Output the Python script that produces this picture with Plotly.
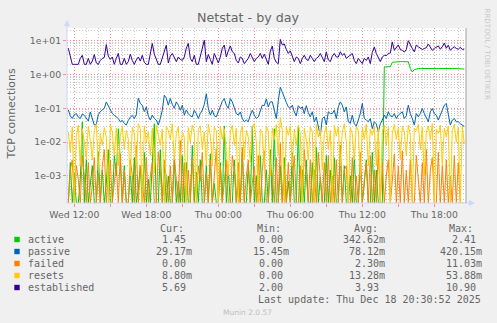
import pandas as pd
import plotly.graph_objects as go

# ---- data: 10-minute samples from Wed 11:30 to Thu 20:30 ----
SAMPLE_START = "2025-12-17 11:30"
SAMPLE_STEP = "10min"

established = [
    6, 3.5, 2, 2, 2, 2, 3, 3.7, 2, 2,
    3, 2, 2.5, 3.9, 2.2, 2, 2.6, 3, 3.2, 7.7,
    3.5, 2.8, 3.3, 2, 3, 4.2, 2, 2, 3, 2,
    2.4, 4, 2.6, 2, 2.7, 3.3, 2.5, 3.7, 2.3, 2,
    2, 4.5, 8.3, 4, 2.6, 2, 2, 3, 5, 7.4,
    2.2, 3.5, 4.2, 3.3, 2.4, 3.3, 2.8, 2.6, 3.3, 6,
    8.3, 3, 2.4, 3.7, 2, 2, 3.3, 6, 10.3, 2.4,
    3.9, 2.8, 2, 4.2, 3, 2.2, 3.3, 6, 7.4, 3.3,
    5, 7, 4.7, 4.2, 2.6, 2.2, 3.3, 3, 2.1, 2.6,
    3, 4.2, 3, 2.4, 3, 3.3, 4.2, 3, 4, 2.6,
    2, 5, 6.9, 3, 2.3, 2.1, 10.9, 7.5, 8, 5.5,
    4.2, 5, 3.5, 2.4, 3.3, 3, 2.1, 3, 3.7, 2.8,
    2.6, 3.7, 3, 2.4, 3, 3.3, 4.2, 3, 2.4, 4.7,
    2.7, 2.4, 3.5, 4.2, 3.3, 3.3, 4.7, 3.7, 4.2, 3,
    3.3, 3.7, 4.2, 2.6, 2.1, 3, 2.6, 2.1, 3, 2.6,
    3.3, 2.1, 4.5, 6.5, 4.2, 3.3, 2.4, 3.3, 3.7, 3.6,
    4.2, 4.3, 9.2, 5.2, 6.2, 7.5, 5.5, 5.2, 4.6, 5.5,
    10, 7.4, 5.9, 4.7, 7.4, 6.6, 5.9, 5.5, 5.9, 6.2,
    8, 6.2, 5.2, 5.9, 6.6, 7, 5.6, 6.6, 8.5, 6,
    7.4, 5.2, 6, 6.6, 5.9, 5.6, 6.4, 5.5, 5.69,
]

passive = [
    .09, .06, .05, .065, .07, .055, .05, .068, .062, .05,
    .042, .078, .05, .032, .034, .065, .08, .09, .1, .155,
    .12, .09, .07, .062, .056, .05, .04, .044, .036, .032,
    .044, .055, .062, .05, .065, .2, .14, .124, .08, .11,
    .06, .045, .063, .05, .045, .032, .05, .088, .245, .2,
    .124, .195, .13, .1, .155, .124, .088, .124, .063, .09,
    .07, .06, .056, .088, .07, .05, .07, .088, .13, .27,
    .1, .063, .088, .06, .056, .078, .12, .16, .195, .124,
    .1, .195, .155, .11, .07, .063, .078, .05, .04, .045,
    .04, .063, .088, .063, .05, .056, .078, .124, .12, .19,
    .11, .155, .155, .09, .05, .17, .42015, .3, .2, .15,
    .11, .1, .124, .078, .06, .12, .1, .11, .07, .12,
    .075, .056, .079, .04, .055, .032, .01545, .05, .056, .032,
    .079, .07, .07, .088, .05, .11, .155, .124, .079, .11,
    .04, .036, .063, .035, .03, .045, .07, .139, .05, .045,
    .04, .05, .025, .04, .035, .02, .035, .045, .063, .05,
    .079, .06, .056, .07, .05, .063, .07, .079, .05, .06,
    .124, .07, .05, .032, .07, .056, .07, .099, .07, .05,
    .04, .079, .099, .07, .063, .045, .063, .09, .124, .139,
    .063, .032, .045, .05, .04, .04, .035, .032, .02917,
]

# rates in milli-units (1/1000 per second)
active_milli = [
    0, 2.5, 0, 1.2, 0, 0, 0.8, 40, 0, 3,
    0, 0.5, 2, 0, 0, 5, 0, 1.5, 0, 0.6,
    6, 0, 0, 4, 1, 25, 3, 0, 2, 0,
    0, 1.5, 0, 3.5, 0, 0.4, 2, 0, 5, 0,
    0.8, 0, 3, 35, 0, 0, 6, 0, 2, 0,
    1, 0, 0, 3, 0, 0.7, 0, 4, 0, 2.5,
    0, 0, 8, 0, 1.3, 0, 3, 0, 0, 2,
    0, 4.5, 0, 0.6, 0, 0, 2.5, 0, 30, 0,
    1.5, 0, 0, 3, 0, 0.8, 0, 5, 0, 0,
    2, 0, 30, 0, 1, 0, 4, 0, 0, 1.5,
    0, 6, 0, 25, 0, 0, 2, 0, 3.5, 0,
    0.7, 0, 5, 0, 0, 28, 0, 1.5, 0, 3,
    0, 0, 2.5, 0, 7, 0, 0.9, 0, 0, 4,
    0, 1.5, 0, 3.5, 0, 0, 6, 0, 2, 0,
    0, 1, 0, 4, 0, 0, 2.5, 0, 0.6, 3,
    0, 0, 5, 0, 1.5, 0, 0, 0, 1680, 1680,
    1690, 1700, 2300, 2350, 2380, 2400, 2410, 2400, 2390, 2400,
    2380, 1500, 1190, 1400, 1480, 1500, 1510, 1500, 1490, 1500,
    1510, 1500, 1500, 1490, 1500, 1510, 1500, 1490, 1500, 1500,
    1490, 1500, 1500, 1510, 1500, 1490, 1480, 1460, 1450,
]

failed_milli = [
    0, 1.5, 3, 0, 2, 0.8, 0, 4, 1, 0,
    2.5, 0, 0.5, 3.5, 0, 1.2, 0, 2, 6, 0,
    1, 3, 0, 0.7, 2.5, 0, 4.5, 0, 1.5, 0,
    0, 3, 1, 0, 8, 0, 2, 0.6, 0, 3.5,
    0, 1, 2.5, 0, 0, 5, 1.5, 0, 3, 0.8,
    0, 2, 0, 4, 1, 0, 11.03, 0, 2.5, 0,
    1.5, 0, 3.5, 0, 0, 2, 0.7, 5, 0, 1.2,
    0, 3, 0, 1, 6.5, 0, 2, 0, 0.8, 3,
    0, 0, 4, 1.5, 0, 2.5, 0, 7, 0, 1,
    3, 0, 0.6, 2, 0, 4, 0, 1.5, 5.5, 0,
    0, 2, 1, 0, 3.5, 0, 9, 0, 1.5, 0,
    2.5, 0, 0.9, 4, 0, 0, 2, 0, 6, 1,
    0, 3, 0, 1.5, 0, 5, 0.7, 0, 2.5, 0,
    4, 0, 1, 0, 3, 0, 8, 0, 1.5, 2,
    0, 0, 3.5, 0, 1, 0, 5, 0, 0.8, 2.5,
    0, 4, 0, 1.5, 0, 6, 0, 2.5, 0, 1,
    3, 0, 0.7, 4.5, 0, 2, 0, 5.5, 0, 1.5,
    0, 3, 0, 0, 4, 1, 0, 2.5, 0, 6,
    0, 1.5, 3.5, 0, 0, 5, 0, 2, 0, 3,
    0, 1, 0, 4, 0, 2.5, 0, 0, 0,
]

resets_milli = [
    20, 5, 28, 0, 15, 32, 2, 25, 10, 3,
    30, 12, 3, 22, 35, 1.5, 18, 8, 27, 14,
    0, 33, 20, 4, 26, 2, 15, 30, 6, 22,
    12, 1, 28, 18, 2, 35, 25, 0, 30, 10,
    20, 4, 26, 1.2, 32, 15, 8, 24, 0, 30,
    22, 12, 35, 3, 18, 28, 3, 20, 14, 0,
    27, 10, 32, 18, 0, 24, 30, 6, 20, 2,
    34, 16, 2, 28, 22, 0, 30, 12, 25, 5,
    1, 20, 32, 8, 26, 0, 18, 30, 3, 22,
    14, 2.5, 28, 36, 10, 0, 24, 18, 2, 30,
    20, 1, 26, 12, 33, 4, 53.88, 22, 0, 28,
    16, 30, 2, 24, 8, 32, 18, 0, 26, 12,
    3, 28, 20, 0, 34, 14, 25, 1.5, 18, 30,
    6, 22, 0, 32, 15, 28, 2, 20, 35, 10,
    0, 26, 18, 3, 30, 22, 1, 28, 12, 34,
    2, 24, 16, 30, 2, 26, 0, 20, 32, 8,
    28, 0, 18, 34, 12, 26, 3, 30, 20, 4,
    32, 16, 0, 26, 22, 34, 6, 28, 1, 20,
    30, 12, 36, 0, 24, 18, 32, 2, 26, 14,
    30, 0, 22, 34, 10, 28, 0, 30, 8.8,
]

active = [v / 1000 for v in active_milli]
failed = [v / 1000 for v in failed_milli]
resets = [v / 1000 for v in resets_milli]

series_names = ["active", "passive", "failed", "resets", "established"]
series_colors = ["#00CC00", "#0066B3", "#FF8000", "#FFCC00", "#330099"]
series_values = [active, passive, failed, resets, established]

# legend statistics
stat_cur = [1.45, 0.02917, 0.0, 0.0088, 5.69]
stat_min = [0.0, 0.01545, 0.0, 0.0, 2.00]
stat_avg = [0.34262, 0.07812, 0.0023, 0.01328, 3.93]
stat_max = [2.41, 0.42015, 0.01103, 0.05388, 10.90]

x_tick_vals = ["2025-12-17 12:00", "2025-12-17 15:00", "2025-12-17 18:00",
               "2025-12-17 21:00", "2025-12-18 00:00", "2025-12-18 03:00",
               "2025-12-18 06:00", "2025-12-18 09:00", "2025-12-18 12:00",
               "2025-12-18 15:00", "2025-12-18 18:00"]
x_tick_text = ["Wed 12:00", "", "Wed 18:00", "", "Thu 00:00", "",
               "Thu 06:00", "", "Thu 12:00", "", "Thu 18:00"]
y_tick_vals = [1e-3, 1e-2, 1e-1, 1e0, 1e1]
y_tick_text = ["1e-03", "1e-02", "1e-01", "1e+00", "1e+01"]

X_RANGE = ["2025-12-17 11:23:30", "2025-12-18 20:38:30"]
LOG_RANGE = [-3.80, 1.376]
FLOOR = 10 ** LOG_RANGE[0]   # zero rates sit on the bottom edge

# ---- styling ----
FONT = "#666666"
AXIS = "#CFD6F8"
GRID = "#C8C8C8"
MGRID = "#EE9090"
SANS = "DejaVu Sans"
MONO = "DejaVu Sans Mono"

# plot area in pixels
L, R, T, B = 67, 466, 28, 203


def px(x):
    return (x - L) / (R - L)


def py(y):
    return (B - y) / (B - T)


def fmt(v):
    if v != 0 and abs(v) < 1:
        return f"{v * 1000:.2f}m"
    return f"{v:.2f}"


fig = go.Figure()
for name, color, vals in zip(series_names, series_colors, series_values):
    fig.add_trace(go.Scatter(
        x=pd.date_range(SAMPLE_START, periods=len(vals), freq=SAMPLE_STEP),
        y=[v if v > 0 else FLOOR for v in vals],
        mode="lines", name=name,
        line=dict(color=color, width=1),
        hoverinfo="skip", showlegend=False,
    ))

minor_y = [m * 10 ** e for e in range(-4, 2) for m in range(2, 10)]

fig.update_layout(
    width=497, height=323,
    margin=dict(l=L, r=497 - R, t=T, b=323 - B),
    paper_bgcolor="#F0F0F0", plot_bgcolor="#FFFFFF",
    showlegend=False,
    title=dict(text="Netstat - by day", x=248 / 497, xref="container",
               xanchor="center", y=1 - 18 / 323, yref="container",
               yanchor="middle",
               font=dict(family=SANS, size=12.7, color=FONT)),
)
fig.update_xaxes(
    type="date", range=X_RANGE,
    tickmode="array", tickvals=x_tick_vals, ticktext=x_tick_text,
    ticks="outside", ticklen=3, tickcolor=MGRID, tickwidth=1,
    tickfont=dict(family=SANS, size=9.3, color=FONT),
    showgrid=True, gridcolor=MGRID, griddash="1px,2px", gridwidth=1,
    zeroline=False, showline=False,
    minor=dict(dtick=3600000, tick0="2025-12-17 00:00", showgrid=True,
               gridcolor=GRID, griddash="1px,2px", gridwidth=1, ticks=""),
)
fig.update_yaxes(
    type="log", range=LOG_RANGE,
    tickmode="array", tickvals=y_tick_vals, ticktext=y_tick_text,
    ticks="outside", ticklen=3, tickcolor=MGRID, tickwidth=1,
    tickfont=dict(family=SANS, size=9.3, color=FONT),
    showgrid=True, gridcolor=MGRID, griddash="1px,2px", gridwidth=1,
    zeroline=False, showline=False,
    minor=dict(tickmode="array", tickvals=minor_y, showgrid=True,
               gridcolor=GRID, griddash="1px,2px", gridwidth=1, ticks=""),
)

shapes = [
    # axes with arrows
    dict(type="line", xref="paper", yref="paper", x0=px(L), x1=px(L),
         y0=py(B), y1=py(25), line=dict(color=AXIS, width=1)),
    dict(type="path", xref="paper", yref="paper",
         path=f"M {px(L)} {py(20)} L {px(L - 3)} {py(26)} L {px(L + 3)} {py(26)} Z",
         fillcolor=AXIS, line=dict(width=0)),
    dict(type="line", xref="paper", yref="paper", x0=px(L), x1=px(470),
         y0=py(B), y1=py(B), line=dict(color=AXIS, width=1)),
    dict(type="path", xref="paper", yref="paper",
         path=f"M {px(475)} {py(B)} L {px(469)} {py(B - 3)} L {px(469)} {py(B + 3)} Z",
         fillcolor=AXIS, line=dict(width=0)),
    dict(type="line", xref="paper", yref="paper", x0=1, x1=1, y0=0, y1=1,
         line=dict(color="#A0A0A0", width=1)),
]

annotations = [
    dict(text="TCP connections", x=px(11), y=py(114.5), textangle=-90,
         font=dict(family=SANS, size=11, color=FONT)),
    dict(text="RRDTOOL / TOBI OETIKER", x=px(487), y=py(53.5), textangle=90,
         font=dict(family=SANS, size=7.1, color="#C8C8C8")),
    dict(text="Munin 2.0.57", x=px(247), y=py(312),
         font=dict(family=SANS, size=7.5, color="#BEBEBE")),
    dict(text="Last update: Thu Dec 18 20:30:52 2025", x=px(483), y=py(299.5),
         xanchor="right", font=dict(family=MONO, size=10, color=FONT)),
]

CHAR = 6.02
header_x = [158, 255, 352, 447]
for label, hx in zip(["Cur:", "Min:", "Avg:", "Max:"], header_x):
    annotations.append(dict(text=label, x=px(hx), y=py(228.3), xanchor="left",
                            font=dict(family=MONO, size=10, color=FONT)))

column_right = [188, 285, 381, 478]
for k, (name, color) in enumerate(zip(series_names, series_colors)):
    yc = 239.5 + 12 * k
    shapes.append(dict(type="rect", xref="paper", yref="paper",
                       x0=px(14.3), x1=px(19.7), y0=py(yc + 2.7), y1=py(yc - 2.7),
                       fillcolor=color, line=dict(width=0)))
    annotations.append(dict(text=name, x=px(26), y=py(yc), xanchor="left",
                            font=dict(family=MONO, size=10, color=FONT)))
    stats = [stat_cur[k], stat_min[k], stat_avg[k], stat_max[k]]
    for v, right in zip(stats, column_right):
        s = fmt(v)
        xr = right + (CHAR if s.endswith("m") else 0)
        annotations.append(dict(text=s, x=px(xr), y=py(yc), xanchor="right",
                                font=dict(family=MONO, size=10, color=FONT)))

for a in annotations:
    a.setdefault("xref", "paper")
    a.setdefault("yref", "paper")
    a.setdefault("showarrow", False)
    a.setdefault("yanchor", "middle")
    a.setdefault("xanchor", "center")

fig.update_layout(shapes=shapes, annotations=annotations)
fig.write_html("out.html")
